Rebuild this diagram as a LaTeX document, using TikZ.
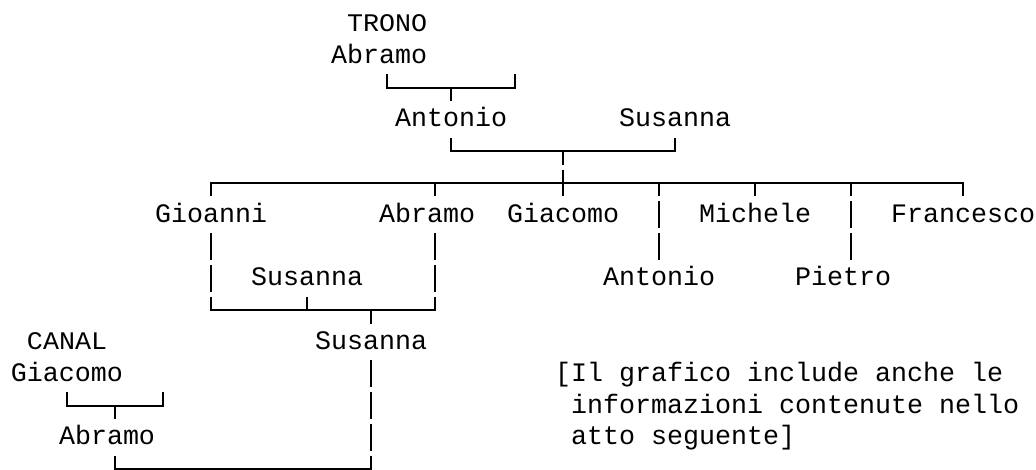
\documentclass[tikz,border=0pt]{standalone}
\usepackage{fontspec}
\usepackage{graphicx}
\usepackage{tikz}
\newfontfamily\mono{Liberation Mono}
\newcommand{\famname}[1]{\scalebox{1.053}[1]{#1}}

\begin{document}
\begin{tikzpicture}[
  x=12pt, y={(0pt,-23.85pt)},
  person/.style={font=\mono\fontsize{20pt}{24pt}\selectfont, anchor=base west,
                 inner sep=0pt, outer sep=0pt, text height=19.46pt, text depth=8.2pt,
                 yshift=-5.6pt},
  surname/.style={person, font=\mono\fontsize{19pt}{23pt}\selectfont},
  rule/.style={line width=1.5pt, line cap=rect},
  stem/.style={line width=1.5pt, dash pattern=on 20.03pt off 3.82pt},
  drop/.style={stem, dash phase=10.01pt},
]
\useasboundingbox (-0.6875,-0.7547) rectangle (64.0625,14.025);

\node[surname] (trono) at (21,0) {\famname{TRONO}};
\node[person] (abramoT) at (20,1) {Abramo};
\node[person] (antonio) at (24,3) {Antonio};
\node[person] (susanna) at (38,3) {Susanna};
\node[person] (gioanni) at (9,6) {Gioanni};
\node[person] (abramo) at (23,6) {Abramo};
\node[person] (giacomo) at (31,6) {Giacomo};
\node[person] (michele) at (43,6) {Michele};
\node[person] (francesco) at (55,6) {Francesco};
\node[person] (susannaG) at (15,8) {Susanna};
\node[person] (antonioG) at (37,8) {Antonio};
\node[person] (pietro) at (49,8) {Pietro};
\node[surname] (canal) at (1,10) {\famname{CANAL}};
\node[person] (susannaA) at (19,10) {Susanna};
\node[person] (giacomoC) at (0,11) {Giacomo};
\node[person] (abramoC) at (3,13) {Abramo};
\node[person] (note1) at (34,11) {[Il grafico include anche le};
\node[person] (note2) at (35,12) {informazioni contenute nello};
\node[person] (note3) at (35,13) {atto seguente]};

% rows of the bars
\coordinate (r2) at (0,2);
\coordinate (r4) at (0,4);
\coordinate (r5) at (0,5);
\coordinate (r9) at (0,9);
\coordinate (r12) at (0,12);
\coordinate (r14) at (0,14);
\coordinate (j1a) at ([xshift=42pt]abramoT.south west |- r2);
\coordinate (j1b) at (31.5,2);
\coordinate (j4a) at ([xshift=42pt]giacomoC.south west |- r12);
\coordinate (j4b) at (9.5,12);

\draw[rule] (j1a) -- (j1b);
\draw[stem] (abramoT.south -| j1a) -- (j1a);
\draw[stem] (abramoT.south -| j1b) -- (j1b);
\draw[drop] (antonio |- r2) -- (antonio.north);

\draw[rule] (antonio |- r4) -- (susanna |- r4);
\draw[stem] (antonio.south) -- (antonio |- r4);
\draw[stem] (susanna.south) -- (susanna |- r4);
\draw[drop] (giacomo |- r4) -- (giacomo.north);

\draw[rule] (gioanni |- r5) -- (francesco |- r5);
\draw[drop] (gioanni |- r5) -- (gioanni.north);
\draw[drop] ([xshift=6pt]abramo.north |- r5) -- ([xshift=6pt]abramo.north);
\draw[drop] (antonioG |- r5) -- (antonioG.north);
\draw[drop] (michele |- r5) -- (michele.north);
\draw[drop] ([xshift=6pt]pietro.north |- r5) -- ([xshift=6pt]pietro.north);
\draw[drop] (francesco |- r5) -- (francesco.north);

\draw[rule] (gioanni |- r9) -- ([xshift=6pt]abramo.south |- r9);
\draw[stem] (gioanni.south) -- (gioanni |- r9);
\draw[stem] ([xshift=6pt]abramo.south) -- ([xshift=6pt]abramo.south |- r9);
\draw[stem] (susannaG.south) -- (susannaG |- r9);
\draw[drop] (susannaA |- r9) -- (susannaA.north);

\draw[rule] (j4a) -- (j4b);
\draw[stem] (giacomoC.south -| j4a) -- (j4a);
\draw[stem] (giacomoC.south -| j4b) -- (j4b);
\draw[drop] ([xshift=6pt]abramoC.north |- r12) -- ([xshift=6pt]abramoC.north);

\draw[rule] ([xshift=6pt]abramoC.south |- r14) -- (susannaA |- r14);
\draw[stem] ([xshift=6pt]abramoC.south) -- ([xshift=6pt]abramoC.south |- r14);
\draw[stem] (susannaA.south) -- (susannaA |- r14);

\end{tikzpicture}
\end{document}
